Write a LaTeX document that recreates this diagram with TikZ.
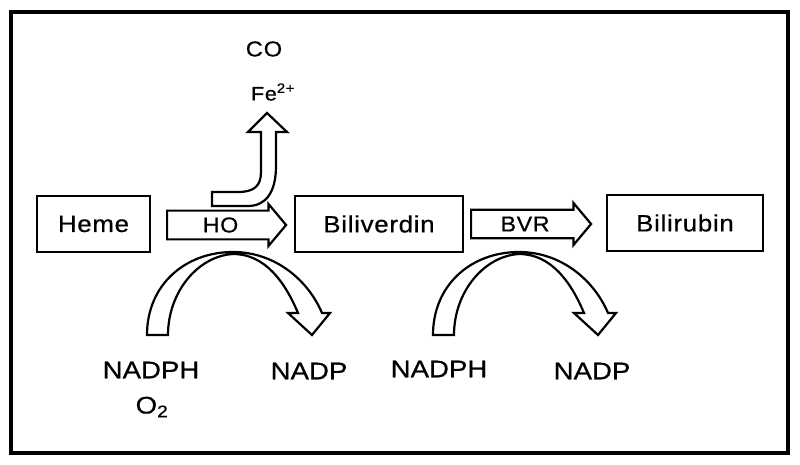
\documentclass[tikz,border=0pt]{standalone}
\usepackage{fontspec}
\setmainfont{Liberation Sans}
\newfontfamily\boxfont{Liberation Sans}[FakeStretch=1.1, LetterSpace=3, FakeBold=0.6]
\newfontfamily\enzfont{Liberation Sans}[FakeStretch=1.08, LetterSpace=3, FakeBold=0.6]
\newfontfamily\cofont{Liberation Sans}[FakeStretch=1.15, FakeBold=0.6]
\newfontfamily\prodfont{Liberation Sans}[FakeStretch=1.1, LetterSpace=4, FakeBold=0.5]
\usetikzlibrary{shapes.arrows}

\tikzset{
  compound/.style={draw, line width=2.2pt, minimum height=56pt,
    font={\boxfont\fontsize{23.5}{26}\selectfont}},
  enzyme/.style={single arrow, draw, line width=2.2pt, inner sep=0pt,
    single arrow head extend=4pt, single arrow tip angle=100,
    minimum width=42pt, anchor=tail,
    font={\enzfont\fontsize{21.5}{24}\selectfont}},
  cofactor/.style={font={\cofont\fontsize{24}{26}\selectfont}},
  product/.style={font={\prodfont\fontsize{19.5}{22}\selectfont}},
  blockarrow/.style={draw, line width=2.2pt, line join=miter, fill=white}
}

\begin{document}
\begin{tikzpicture}[x=1pt, y=-1pt]
    \useasboundingbox (0,0) rectangle (800,465);
    % draw frame
    \draw[line width=3.2pt] (11,12) rectangle (788,453);

    % draw compounds
    \node[compound, minimum width=113pt] (heme) at (93.5,224) {Heme};
    \node[compound, minimum width=168pt] (biliverdin) at (379,224) {Biliverdin};
    \node[compound, minimum width=156pt] (bilirubin) at (685,223) {Bilirubin};

    % draw enzymes
    \node[enzyme, minimum height=119pt] (ho) at (166,225) {HO};
    \node[enzyme, minimum height=120pt] (bvr) at (470,224) {BVR};

    % draw bent arrow up
    \draw[blockarrow] (212,206) -- (212,192) -- (238,192)
      .. controls (254,192) and (261,186) .. (261,172) -- (261,132)
      -- (248,132) -- (267,113) -- (287,132) -- (276,132) -- (276,166)
      .. controls (276,192) and (266,206) .. (248,206) -- cycle;
    \node[product, font={\prodfont\fontsize{21.5}{24}\selectfont}] (co) at (264,49) {CO};
    \node[product] (fe) at (273,92) {Fe\textsuperscript{2+}};

    % draw curved arrows
    \foreach \dx in {0,286}
      \draw[blockarrow, xshift=\dx pt] (147,335)
        .. controls (147,285) and (185,252) .. (233,252)
        .. controls (275,252) and (308,280) .. (322,313)
        -- (330,313) -- (312,335) -- (288,313) -- (298,313)
        .. controls (285,282) and (265,254) .. (233,254)
        .. controls (198,256) and (168,292) .. (168,335) -- cycle;

    % draw cofactors
    \node[cofactor] (nadph) at (151,370) {NADPH};
    \node[cofactor] (oxygen) at (152,407) {O\textsubscript{2}};
    \node[cofactor] (nadp) at (309,371) {NADP};
    \node[cofactor] (nadphb) at (439,369) {NADPH};
    \node[cofactor] (nadpb) at (592,371) {NADP};
\end{tikzpicture}
\end{document}
